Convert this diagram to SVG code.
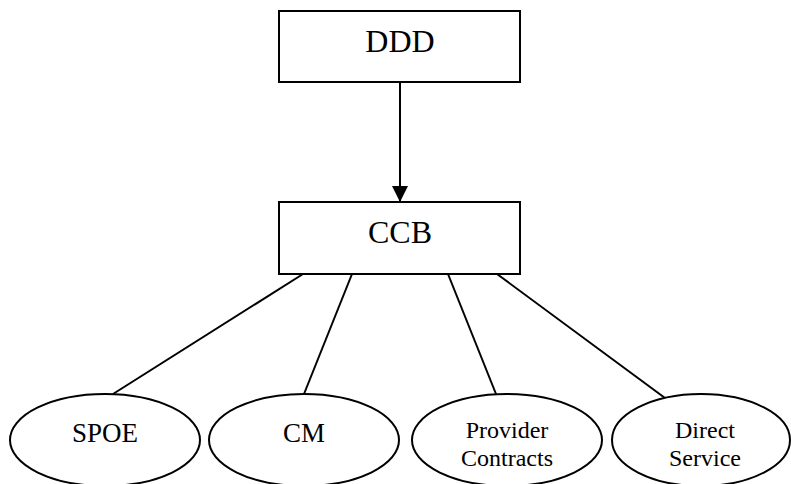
<svg xmlns="http://www.w3.org/2000/svg" width="791" height="484" viewBox="0 0 791 484">
<style>
.box{fill:#fff;stroke:#000;stroke-width:2}
.ell{fill:#fff;stroke:#000;stroke-width:2}
.line{stroke:#000;stroke-width:2;fill:none}
text{font-family:"Liberation Serif","Times New Roman",serif;fill:#000;text-anchor:middle}
.big{font-size:32px}
.mid{font-size:27px}
.sm{font-size:24px}
</style>
<defs>
<marker id="arr" markerWidth="16" markerHeight="16" refX="16" refY="8" orient="auto" markerUnits="userSpaceOnUse">
<path d="M0,0 L16,8 L0,16 Z" fill="#000"/>
</marker>
</defs>
<rect width="791" height="484" fill="#fff"/>
<g id="connectors">
<line class="line" x1="400" y1="82" x2="400" y2="202" marker-end="url(#arr)"/>
<line class="line" x1="303" y1="274" x2="113" y2="394"/>
<line class="line" x1="352" y1="274" x2="304" y2="394"/>
<line class="line" x1="448" y1="274" x2="496" y2="394"/>
<line class="line" x1="497" y1="274" x2="665" y2="398"/>
</g>
<g id="ddd">
<rect class="box" x="279" y="11" width="241" height="71"/>
<text class="big" x="400" y="52">DDD</text>
</g>
<g id="ccb">
<rect class="box" x="279" y="202" width="241" height="72"/>
<text class="big" x="400" y="243">CCB</text>
</g>
<g id="spoe">
<ellipse class="ell" cx="105" cy="440" rx="95" ry="46"/>
<text class="mid" x="105" y="442">SPOE</text>
</g>
<g id="cm">
<ellipse class="ell" cx="304" cy="440" rx="95" ry="46"/>
<text class="mid" x="304" y="442">CM</text>
</g>
<g id="provider">
<ellipse class="ell" cx="507" cy="440" rx="95" ry="46"/>
<text class="sm" x="507" y="438">Provider</text>
<text class="sm" x="507" y="466">Contracts</text>
</g>
<g id="direct">
<ellipse class="ell" cx="701" cy="440" rx="89" ry="46"/>
<text class="sm" x="705" y="438">Direct</text>
<text class="sm" x="705" y="466">Service</text>
</g>
</svg>
